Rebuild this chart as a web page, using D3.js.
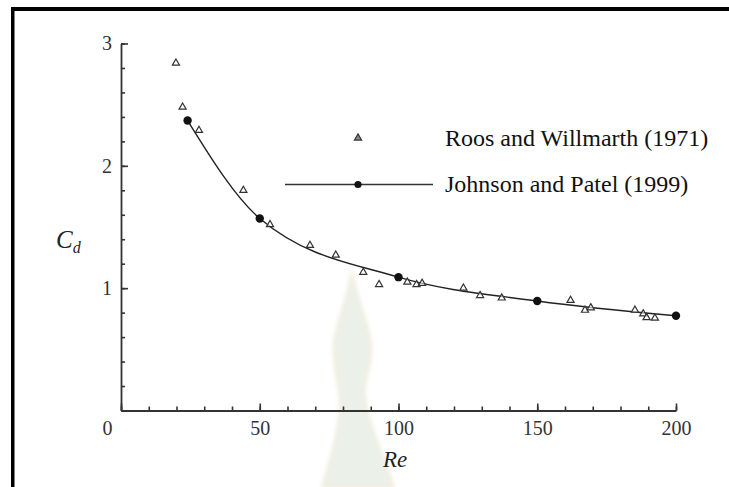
<!DOCTYPE html>
<html>
<head>
<meta charset="utf-8">
<script src="https://cdn.jsdelivr.net/npm/d3@7"></script>
<style>
  html, body { margin: 0; padding: 0; background: #fff; }
  svg { display: block; }
  text { font-family: "Liberation Serif", "Times New Roman", serif; }
</style>
</head>
<body>
<svg id="chart" width="729" height="487"></svg>
<script>
// Roos and Willmarth (1971): measured drag coefficient vs Reynolds number
const roosRe = [19.8, 22.2, 28.1, 44.1, 53.7, 68.1, 77.4, 87.3, 93.0, 103.2, 106.5, 108.5,
                123.4, 129.4, 137.2, 162.0, 167.2, 169.3, 185.2, 188.2, 189.4, 192.4];
const roosCd = [2.84, 2.48, 2.29, 1.80, 1.52, 1.35, 1.27, 1.13, 1.03, 1.05, 1.03, 1.04,
                1.00, 0.94, 0.92, 0.90, 0.82, 0.84, 0.82, 0.79, 0.76, 0.755];

// Johnson and Patel (1999): computed values, joined by a smooth curve
const jpRe = [24, 50, 100, 150, 200];
const jpCd = [2.37, 1.57, 1.09, 0.895, 0.775];

// Axis ticks
const xMajor = [0, 50, 100, 150, 200];
const xMinor = d3.range(0, 201, 10);
const yMajor = [1, 2, 3];
const yMinor = d3.range(0, 3.01, 0.2).map(v => +v.toFixed(1));

const legendLabels = ["Roos and Willmarth (1971)", "Johnson and Patel (1999)"];

const svg = d3.select("#chart");

// Faint background emblem
const defs = svg.append("defs");
defs.append("filter").attr("id", "soft")
  .append("feGaussianBlur").attr("stdDeviation", 2.5);
const emblem = "M352,266 C355,298 371,326 371,348 C371,368 363,378 365,396 " +
               "C367,422 386,460 394,487 L322,487 C330,460 342,422 340,396 " +
               "C338,378 334,368 334,348 C334,326 349,298 352,266 Z";
svg.append("path").attr("d", emblem)
  .attr("fill", "#f5d9a6").attr("opacity", 0.5).attr("filter", "url(#soft)")
  .attr("transform", "translate(0,2)");
svg.append("path").attr("d", emblem)
  .attr("fill", "#ebf0e9").attr("filter", "url(#soft)");

// Frame
svg.append("rect").attr("x", 11).attr("y", 7).attr("width", 729).attr("height", 4).attr("fill", "#000");
svg.append("rect").attr("x", 11).attr("y", 7).attr("width", 3.5).attr("height", 480).attr("fill", "#000");

const x = d3.scaleLinear().domain([0, 200]).range([121, 676]);
const y = d3.scaleLinear().domain([0, 3]).range([410.5, 43.5]);

const axisColor = "#333";
const labelColor = "#333";
const fmt = d3.format("d");

// x axis: minor ticks, then major ticks with labels (ticks point inward)
const gxMinor = svg.append("g").attr("transform", `translate(0,${y(0)})`)
  .call(d3.axisBottom(x).tickValues(xMinor).tickSize(-4).tickFormat(""));
const gx = svg.append("g").attr("transform", `translate(0,${y(0)})`)
  .call(d3.axisBottom(x).tickValues(xMajor).tickSize(-7).tickPadding(10)
    .tickSizeOuter(0).tickFormat(fmt));
gx.selectAll("text")
  .attr("font-family", "Liberation Serif, serif").attr("font-size", 20).attr("fill", labelColor)
  .attr("dx", d => d === 0 ? -14 : 0);

// y axis
const gyMinor = svg.append("g").attr("transform", `translate(${x(0)},0)`)
  .call(d3.axisLeft(y).tickValues(yMinor).tickSize(-4).tickFormat(""));
const gy = svg.append("g").attr("transform", `translate(${x(0)},0)`)
  .call(d3.axisLeft(y).tickValues(yMajor).tickSize(-7).tickPadding(9)
    .tickSizeOuter(0).tickFormat(fmt));
gy.selectAll("text")
  .attr("font-family", "Liberation Serif, serif").attr("font-size", 20).attr("fill", labelColor);

[gxMinor, gx, gyMinor, gy].forEach(g => {
  g.select(".domain").attr("stroke", axisColor).attr("stroke-width", 1.8);
  g.selectAll(".tick line").attr("stroke", axisColor).attr("stroke-width", 1.6);
});
gxMinor.select(".domain").remove();
gyMinor.select(".domain").remove();

// Axis titles
const cd = svg.append("text").attr("x", 56).attr("y", 248)
  .attr("font-size", 25).attr("font-style", "italic").attr("fill", "#222");
cd.append("tspan").text("C");
cd.append("tspan").attr("font-size", 16).attr("dy", 5).text("d");

svg.append("text").attr("x", 383).attr("y", 467)
  .attr("font-size", 23).attr("font-style", "italic").attr("fill", "#222").text("Re");

// Johnson and Patel curve and points
const jp = jpRe.map((r, i) => [r, jpCd[i]]);
const line = d3.line().x(d => x(d[0])).y(d => y(d[1])).curve(d3.curveMonotoneX);
svg.append("path").datum(jp).attr("d", line)
  .attr("fill", "none").attr("stroke", "#222").attr("stroke-width", 1.4);
svg.append("g").selectAll("circle").data(jp).join("circle")
  .attr("cx", d => x(d[0])).attr("cy", d => y(d[1])).attr("r", 4.2).attr("fill", "#111");

// Roos and Willmarth triangles
const tri = d3.symbol().type(d3.symbolTriangle).size(22);
const roos = roosRe.map((r, i) => [r, roosCd[i]]);
svg.append("g").selectAll("path").data(roos).join("path")
  .attr("d", tri)
  .attr("transform", d => `translate(${x(d[0])},${y(d[1])})`)
  .attr("fill", "#fff").attr("fill-opacity", 0.6).attr("stroke", "#333").attr("stroke-width", 1.2);

// Legend
const lg = svg.append("g");
lg.append("path").attr("d", tri).attr("transform", "translate(358,138)")
  .attr("fill", "#888").attr("stroke", "#333").attr("stroke-width", 1.2);
lg.append("text").attr("x", 445).attr("y", 146).attr("font-size", 24).attr("fill", "#111")
  .text(legendLabels[0]);
lg.append("line").attr("x1", 285).attr("x2", 433).attr("y1", 184.5).attr("y2", 184.5)
  .attr("stroke", "#333").attr("stroke-width", 1.4);
lg.append("circle").attr("cx", 358).attr("cy", 184.5).attr("r", 3.6).attr("fill", "#111");
lg.append("text").attr("x", 445).attr("y", 192).attr("font-size", 24).attr("fill", "#111")
  .text(legendLabels[1]);
</script>
</body>
</html>
